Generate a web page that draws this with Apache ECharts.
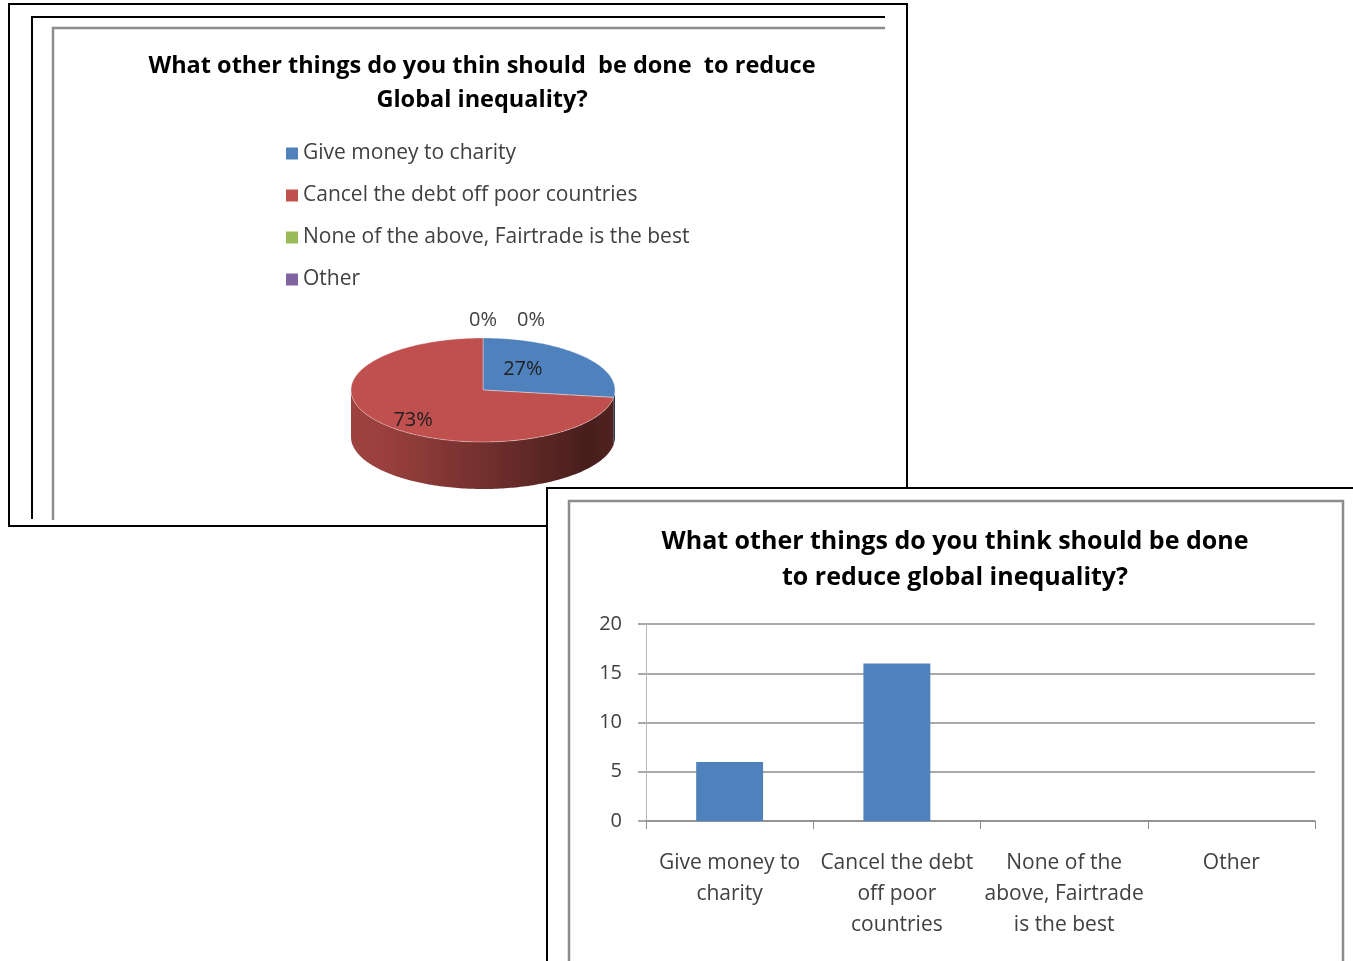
<!DOCTYPE html>
<html>
<head>
<meta charset="utf-8">
<script src="https://cdn.jsdelivr.net/npm/echarts@6/dist/echarts.min.js"></script>
<style>
  html, body { margin: 0; padding: 0; background: #fff; overflow: hidden; }
  #pie { position: absolute; left: 0; top: 0; width: 920px; height: 540px; }
  #bar { position: absolute; left: 546px; top: 487px; width: 807px; height: 474px; background: #fff; }
</style>
</head>
<body>
<div id="pie"></div>
<div id="bar"></div>
<script>
// Survey answers: "What other things should be done to reduce global inequality?"
const categories = [
  'Give money to charity',
  'Cancel the debt off poor countries',
  'None of the above, Fairtrade is the best',
  'Other'
];
const responses = [6, 16, 0, 0];
const sliceColors = ['#4f81bd', '#c0504d', '#9bbb59', '#8064a2'];
const yMin = 0, yMax = 20, yStep = 5;
const pieTitle = 'What other things do you thin should  be done  to reduce\nGlobal inequality?';
const barTitle = 'What other things do you think should be done\nto reduce global inequality?';

const FONT = '"Open Sans"';
const TEXT_GREY = '#404040';

// ---------- 3-D looking pie, drawn with custom series ----------
const PIE = { cx: 483, cy: 390, rx: 132, ry: 52, depth: 47 };
const total = responses.reduce((a, b) => a + b, 0);

// angle measured clockwise from 12 o'clock
function pt(a, dy) {
  return [PIE.cx + PIE.rx * Math.sin(a), PIE.cy - PIE.ry * Math.cos(a) + dy];
}
function arc(a0, a1, dy) {
  const n = Math.max(2, Math.ceil(Math.abs(a1 - a0) / 0.02));
  const pts = [];
  for (let k = 0; k <= n; k++) pts.push(pt(a0 + (a1 - a0) * k / n, dy));
  return pts;
}
function shade(hex, f) {
  const n = parseInt(hex.slice(1), 16);
  const r = Math.round(((n >> 16) & 255) * f);
  const g = Math.round(((n >> 8) & 255) * f);
  const b = Math.round((n & 255) * f);
  return 'rgb(' + r + ',' + g + ',' + b + ')';
}

function sliceRender(idx) {
  return function (params, api) {
    const v = api.value(0);
    const before = responses.slice(0, idx).reduce((a, b) => a + b, 0);
    const a0 = before / total * 2 * Math.PI;
    const a1 = (before + v) / total * 2 * Math.PI;
    const base = sliceColors[idx];
    const children = [];

    // visible front wall (lower half of the ellipse)
    const w0 = Math.max(a0, Math.PI / 2), w1 = Math.min(a1, 3 * Math.PI / 2);
    if (w1 > w0) {
      children.push({
        type: 'polygon',
        shape: { points: arc(w0, w1, 0).concat(arc(w1, w0, PIE.depth)) },
        style: {
          fill: {
            type: 'linear', global: true,
            x: PIE.cx - PIE.rx, y: 0, x2: PIE.cx + PIE.rx, y2: 0,
            colorStops: [
              { offset: 0, color: shade(base, 0.82) },
              { offset: 0.12, color: shade(base, 0.8) },
              { offset: 0.5, color: shade(base, 0.6) },
              { offset: 0.9, color: shade(base, 0.37) },
              { offset: 1, color: shade(base, 0.42) }
            ]
          }
        }
      });
    }
    // top face
    if (v > 0) {
      children.push({
        type: 'polygon',
        shape: { points: [[PIE.cx, PIE.cy]].concat(arc(a0, a1, 0)) },
        style: { fill: base, stroke: 'rgba(255,255,255,0.35)', lineWidth: 1 }
      });
    }
    // percentage label
    const pct = Math.round(v / total * 100) + '%';
    let lx, ly;
    if (v > 0) {
      const mid = (a0 + a1) / 2;
      lx = PIE.cx - 15 + 0.55 * PIE.rx * Math.sin(mid);
      ly = PIE.cy + 5 - 0.75 * PIE.ry * Math.cos(mid);
    } else {
      const zi = responses.slice(0, idx).filter(x => x === 0).length;
      lx = PIE.cx + zi * 48;
      ly = PIE.cy - PIE.ry - 18;
    }
    children.push({
      type: 'text', x: lx, y: ly, z2: 10,
      style: {
        text: pct, fontFamily: FONT, fontSize: 20,
        fill: v > 0 ? '#1f1f1f' : TEXT_GREY, align: 'center', verticalAlign: 'middle'
      }
    });
    return { type: 'group', children: children };
  };
}

const pieChart = echarts.init(document.getElementById('pie'), null, { renderer: 'canvas' });
pieChart.setOption({
  animation: false,
  graphic: [
    { type: 'rect', z: 0, shape: { x: 9, y: 4, width: 898, height: 522 },
      style: { fill: '#fff', stroke: '#000', lineWidth: 2 } },
    { type: 'polyline', z: 1, shape: { points: [[32, 519], [32, 17], [885, 17]] },
      style: { stroke: '#000', lineWidth: 2, fill: null } },
    { type: 'polyline', z: 1, shape: { points: [[53, 520], [53, 28], [885, 28]] },
      style: { stroke: '#8c8c8c', lineWidth: 2.5, fill: null } },
    { type: 'text', z: 1, x: 482, y: 49,
      style: { text: pieTitle, fontFamily: FONT, fontWeight: 'bold', fontSize: 23.5,
               lineHeight: 34, fill: '#000', align: 'center', verticalAlign: 'top' } }
  ],
  legend: {
    orient: 'vertical', left: 286, top: 143, padding: 0,
    itemWidth: 12, itemHeight: 12, itemGap: 21, icon: 'rect',
    selectedMode: false,
    textStyle: { fontFamily: FONT, fontSize: 21, color: TEXT_GREY, lineHeight: 21 },
    data: categories
  },
  series: categories.map((name, i) => ({
    type: 'custom',
    name: name,
    coordinateSystem: 'none',
    silent: true,
    itemStyle: { color: sliceColors[i] },
    data: [[responses[i]]],
    renderItem: sliceRender(i)
  }))
});

// ---------- column chart ----------
function wrapLabel(s) {
  const words = s.split(' ');
  const lines = [];
  let cur = '';
  words.forEach(w => {
    const t = cur ? cur + ' ' + w : w;
    if (t.length > 16 && cur) { lines.push(cur); cur = w; } else { cur = t; }
  });
  if (cur) lines.push(cur);
  return lines.join('\n');
}

const barChart = echarts.init(document.getElementById('bar'), null, { renderer: 'canvas' });
barChart.setOption({
  animation: false,
  graphic: [
    { type: 'polyline', shape: { points: [[1, 474], [1, 1], [807, 1]] },
      style: { stroke: '#000', lineWidth: 2, fill: null } },
    { type: 'rect', shape: { x: 23, y: 14, width: 774, height: 520 },
      style: { fill: null, stroke: '#8c8c8c', lineWidth: 2.5 } },
    { type: 'text', x: 409, y: 37,
      style: { text: barTitle, fontFamily: FONT, fontWeight: 'bold', fontSize: 25,
               lineHeight: 36, fill: '#000', align: 'center', verticalAlign: 'top' } }
  ],
  grid: { left: 100, right: 38, top: 137, bottom: 140 },
  xAxis: {
    type: 'category',
    data: categories,
    axisLine: { lineStyle: { color: '#8c8c8c', width: 1.5 } },
    axisTick: { show: true, length: 8, lineStyle: { color: '#8c8c8c' } },
    axisLabel: { interval: 0, formatter: wrapLabel, fontFamily: FONT, fontSize: 21,
                 color: TEXT_GREY, lineHeight: 31, margin: 27 }
  },
  yAxis: {
    type: 'value', min: yMin, max: yMax, interval: yStep,
    axisLine: { show: true, lineStyle: { color: '#b8b8b8', width: 1 } },
    axisTick: { show: true, length: 8, lineStyle: { color: '#8c8c8c', width: 1.5 } },
    splitLine: { lineStyle: { color: '#8c8c8c', width: 1.5 } },
    axisLabel: { fontFamily: FONT, fontSize: 20, color: TEXT_GREY, margin: 24 }
  },
  series: [{
    type: 'bar',
    data: responses,
    barWidth: '40%',
    itemStyle: { color: '#4f81bd' },
    silent: true
  }]
});
</script>
</body>
</html>
